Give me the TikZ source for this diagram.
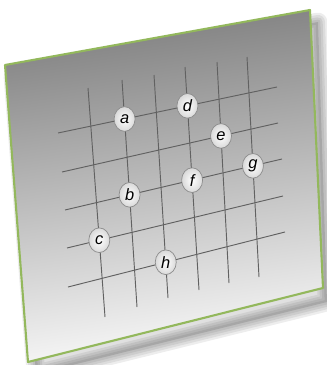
\documentclass[tikz,border=0pt]{standalone}
\usepackage{fontspec}
\setsansfont{Liberation Sans}
\usetikzlibrary{shapes.geometric,calc}

\definecolor{rimgreen}{HTML}{93B85C}
\tikzset{
  gridline/.style={draw=black!62, line width=0.8pt},
  vertex/.style={ellipse, draw=black!45, line width=0.6pt, inner color=white,
    outer color=black!15, minimum width=0.63cm, minimum height=0.74cm,
    inner sep=0pt, font=\sffamily\itshape\fontsize{14}{16}\selectfont},
}

\begin{document}
\begin{tikzpicture}[x=0.03cm, y=-0.03cm]
\useasboundingbox (0,0) rectangle (326,365);
% panel corners
\coordinate (tl) at (5,65);
\coordinate (tr) at (310,10);
\coordinate (br) at (323,288);
\coordinate (bl) at (28,362);
% soft shadow
\foreach \w in {16,12,8,4}
  \draw[black, opacity=0.07, line width=\w pt, line join=round]
    ($(tl)+(8,12)$) -- ($(tr)+(8,12)$) -- ($(br)+(4,14)$) -- ($(bl)+(8,12)$) -- cycle;
\fill[black, opacity=0.12] ($(tl)+(8,12)$) -- ($(tr)+(8,12)$) -- ($(br)+(4,14)$) -- ($(bl)+(8,12)$) -- cycle;
% panel
\shade[top color=black!50, middle color=black!22, bottom color=black!2, shading angle=8]
  (tl) -- (tr) -- (br) -- (bl) -- cycle;
\draw[rimgreen, line width=1.8pt, line join=round] (tl) -- (tr) -- (br) -- (bl) -- cycle;

% vertical lines
\coordinate (v1t) at (88,88);  \coordinate (v1b) at (105,317);
\coordinate (v2t) at (122,80); \coordinate (v2b) at (137,307);
\coordinate (v3t) at (154,75); \coordinate (v3b) at (168,298);
\coordinate (v4t) at (185,67); \coordinate (v4b) at (199,290);
\coordinate (v5t) at (217,62); \coordinate (v5b) at (229,283);
\coordinate (v6t) at (247,57); \coordinate (v6b) at (259,277);
% horizontal lines
\coordinate (h1l) at (58,133); \coordinate (h1r) at (277,87);
\coordinate (h2l) at (62,172); \coordinate (h2r) at (278,123);
\coordinate (h3l) at (65,210); \coordinate (h3r) at (282,159);
\coordinate (h4l) at (67,248); \coordinate (h4r) at (283,196);
\coordinate (h5l) at (68,287); \coordinate (h5r) at (285,232);

\foreach \i in {1,...,6}
  \draw[gridline] (v\i t) -- (v\i b);
\foreach \i in {1,...,5}
  \draw[gridline] (h\i l) -- (h\i r);

\node[vertex] (a) at (intersection of v2t--v2b and h1l--h1r) {a};
\node[vertex] (d) at (intersection of v4t--v4b and h1l--h1r) {d};
\node[vertex] (e) at (intersection of v5t--v5b and h2l--h2r) {e};
\node[vertex] (g) at (intersection of v6t--v6b and h3l--h3r) {g};
\node[vertex] (f) at (intersection of v4t--v4b and h3l--h3r) {f};
\node[vertex] (b) at (intersection of v2t--v2b and h3l--h3r) {b};
\node[vertex] (c) at (intersection of v1t--v1b and h4l--h4r) {c};
\node[vertex] (h) at (intersection of v3t--v3b and h5l--h5r) {h};
\end{tikzpicture}
\end{document}
